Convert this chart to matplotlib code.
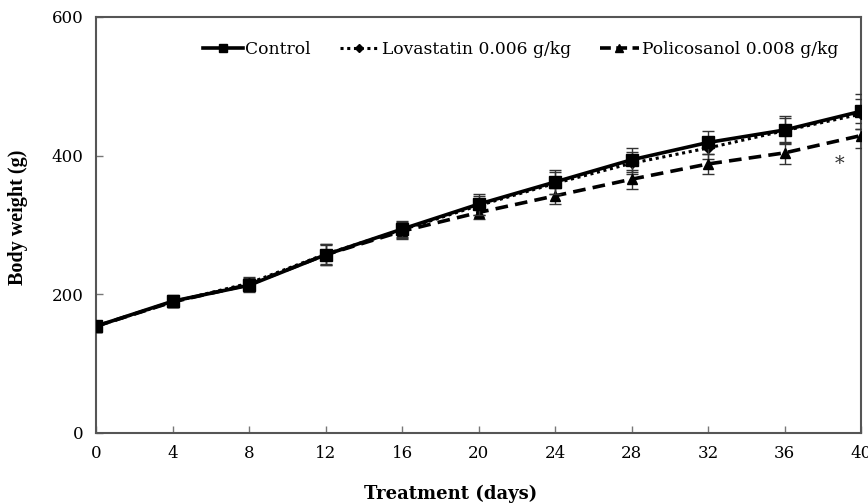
"""
Body weight over treatment days for three groups.
"""

import matplotlib
matplotlib.use("Agg")
import matplotlib.pyplot as plt
from matplotlib.lines import Line2D

days = [0, 4, 8, 12, 16, 20, 24, 28, 32, 36, 40]

control = [154, 190, 213, 257, 294, 330, 362, 394, 419, 437, 464]
control_err = [8, 9, 9, 15, 12, 15, 17, 17, 17, 20, 25]

lovastatin = [154, 189, 216, 258, 293, 328, 360, 389, 411, 436, 460]
lovastatin_err = [8, 8, 9, 14, 12, 14, 16, 16, 16, 18, 22]

policosanol = [154, 189, 214, 257, 291, 318, 342, 366, 388, 404, 429]
policosanol_err = [8, 8, 9, 14, 11, 10, 12, 14, 14, 16, 18]

labels = ["Control", "Lovastatin 0.006 g/kg", "Policosanol 0.008 g/kg"]
x_ticks = [0, 4, 8, 12, 16, 20, 24, 28, 32, 36, 40]
y_ticks = [0, 200, 400, 600]


def main() -> None:
    plt.rcParams["font.family"] = ["DejaVu Serif"]

    fig = plt.figure(figsize=(8.68, 5.04), dpi=100)
    ax = fig.add_axes([0.1106, 0.1409, 0.8814, 0.8254])

    styles = [
        dict(linestyle="-", linewidth=2.6, marker="s", markersize=8),
        dict(linestyle=(0, (1, 1.2)), linewidth=2.2, marker="D", markersize=5),
        dict(linestyle=(0, (3.5, 2)), linewidth=2.6, marker="^", markersize=7),
    ]
    series = [(control, control_err), (lovastatin, lovastatin_err),
              (policosanol, policosanol_err)]
    zorders = [4, 3, 3]
    for (vals, err), st, z in zip(series, styles, zorders):
        ax.errorbar(days, vals, yerr=err, color="black", ecolor="#333333",
                    elinewidth=1.0, capsize=4, capthick=1.0, zorder=z, **st)

    ax.text(38.9, 388, "*", fontsize=14, ha="center", va="center", color="#333333")

    ax.set_xlim(0, 40)
    ax.set_ylim(0, 600)
    ax.set_xticks(x_ticks)
    ax.set_yticks(y_ticks)
    ax.tick_params(direction="in", length=5, width=1, color="#777777",
                   labelsize=12, pad=9)
    for spine in ax.spines.values():
        spine.set_color("#555555")
        spine.set_linewidth(1.5)

    ax.set_xlabel("Treatment (days)", fontsize=13, fontweight="bold")
    ax.xaxis.set_label_coords(0.463, -0.125)
    ax.set_ylabel("Body weight (g)", fontsize=14.5, fontweight="bold",
                  family="Liberation Serif")
    ax.yaxis.set_label_coords(-0.089, 0.519)

    handles = [
        Line2D([], [], color="black", linestyle="-", linewidth=2.6,
               marker="s", markersize=6),
        Line2D([], [], color="black", linestyle=(0, (1, 1.2)), linewidth=2.2,
               marker="D", markersize=4.5),
        Line2D([], [], color="black", linestyle=(0, (3, 1.5)), linewidth=2.6,
               marker="^", markersize=5.5),
    ]
    ax.legend(handles, labels, loc="center", bbox_to_anchor=(0.555, 0.921), ncol=3,
              frameon=False, fontsize=12.3, handlelength=2.3,
              handletextpad=0.15, columnspacing=1.7)

    fig.savefig("out.png", dpi=100)
    plt.close(fig)


if __name__ == "__main__":
    main()
